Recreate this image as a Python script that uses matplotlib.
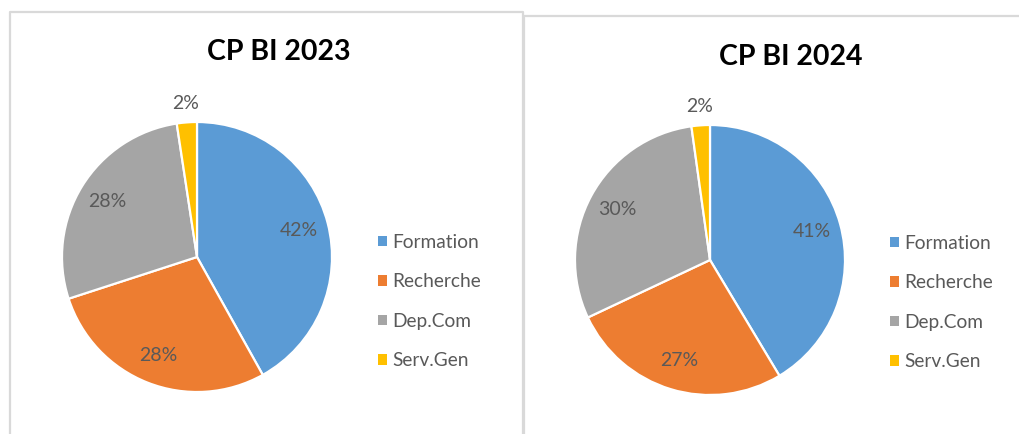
import matplotlib.pyplot as plt
import numpy as np
from matplotlib.lines import Line2D
from matplotlib.patches import Patch

W, H = 1019, 434
plt.rcParams["font.family"] = ["Lato", "DejaVu Sans"]

CATEGORIES = ["Formation", "Recherche", "Dep.Com", "Serv.Gen"]
SHARES_2023 = [41.9, 28.1, 27.6, 2.4]
SHARES_2024 = [41.4, 26.6, 29.8, 2.2]
TITLES = ["CP BI 2023", "CP BI 2024"]

COLORS = ["#5B9BD5", "#ED7D31", "#A5A5A5", "#FFC000"]
TEXT_COLOR = "#595959"
BORDER_COLOR = "#D9D9D9"


def px(x, y):
    # pixel coords (top-left origin) -> figure fraction
    return x / W, 1 - y / H


fig = plt.figure(figsize=(W / 100, H / 100), dpi=100)

# panel borders
for xs, ys in [((10, 10, 523, 523), (434, 12, 12, 434)),
               ((524, 524, 1019), (434, 16, 16))]:
    fig.add_artist(Line2D([x / W for x in xs], [1 - y / H for y in ys],
                          transform=fig.transFigure, color=BORDER_COLOR, lw=1.6))


def draw_panel(shares, title, cx, cy, r, title_xy, legend_xy):
    x0, y0 = px(cx - r, cy + r)
    ax = fig.add_axes([x0, y0, 2 * r / W, 2 * r / H])
    ax.pie(shares, colors=COLORS, startangle=90, counterclock=False,
           wedgeprops=dict(edgecolor="white", linewidth=1.6))
    ax.set_xlim(-1, 1)
    ax.set_ylim(-1, 1)

    # percentage labels, small slice goes outside like Excel's best fit
    total = sum(shares)
    start = 90.0
    for v in shares:
        ang = np.deg2rad(start - 180 * v / total)
        start -= 360 * v / total
        dist = 0.78 if v / total > 0.05 else 1.14
        ax.text(dist * np.cos(ang), dist * np.sin(ang), f"{round(v)}%",
                ha="center", va="center", fontsize=14, color=TEXT_COLOR)

    fig.text(*px(*title_xy), title, ha="center", va="center",
             fontsize=20.5, fontweight="bold", color="black")
    handles = [Patch(facecolor=c, edgecolor="none") for c in COLORS]
    fig.legend(handles, CATEGORIES, loc="upper left", bbox_to_anchor=px(*legend_xy),
               frameon=False, fontsize=13.8, labelcolor=TEXT_COLOR,
               handlelength=0.45, handleheight=0.45, handletextpad=0.3,
               labelspacing=1.17, borderaxespad=0, borderpad=0)


draw_panel(SHARES_2023, TITLES[0], 197, 257, 135, (279, 52), (378, 234))
draw_panel(SHARES_2024, TITLES[1], 710, 260, 135, (791, 57), (890, 235))

fig.savefig("out.png", dpi=100)
